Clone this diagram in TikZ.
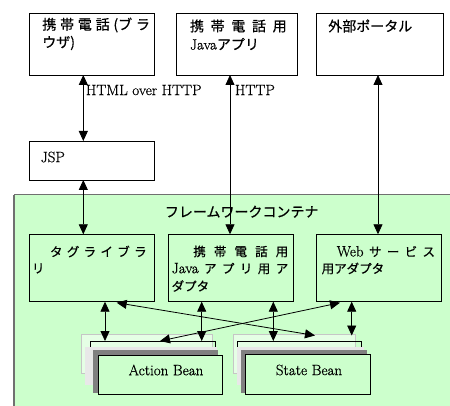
\documentclass[tikz,border=0pt]{standalone}
\usepackage{fontspec}
\newfontfamily\jp[FakeBold=0.5]{Noto Sans CJK JP}
\newfontfamily\lrm[FakeBold=0.6]{Latin Modern Roman}
\usetikzlibrary{arrows.meta}
\definecolor{fwgreen}{HTML}{CCFFCC}
\definecolor{fwedge}{HTML}{707070}
\newcommand\JA{\jp\fontsize{14}{16}\selectfont}
\newcommand\JB{\jp\fontsize{12.5}{14}\selectfont}
\newcommand\LR{\lrm\fontsize{15}{17}\selectfont}
\begin{document}
\begin{tikzpicture}[x=1pt,y=-1pt,
  box/.style={draw=black,line width=0.8pt,anchor=north west,inner sep=0,outer sep=0},
  wbox/.style={box,fill=white},
  gbox/.style={box,fill=fwgreen},
  txt/.style={anchor=west,inner sep=0,outer sep=0},
  ctxt/.style={inner sep=0,outer sep=0},
  dbl/.style={{Triangle[length=10pt,width=9pt]}-{Triangle[length=10pt,width=9pt]},line width=0.8pt},
  lay1/.style={anchor=north west,inner sep=0,outer sep=0,draw=gray!45,line width=0.8pt,fill=white,fill opacity=0.5,draw opacity=1},
  lay2/.style={anchor=north west,inner sep=0,outer sep=0,draw=black,line width=0.8pt},
  lay3/.style={anchor=north west,inner sep=0,outer sep=0,fill=gray!18},
  lay4/.style={anchor=north west,inner sep=0,outer sep=0,fill=gray},
  lay5/.style={anchor=north west,inner sep=0,outer sep=0,draw=black,line width=0.8pt,fill=fwgreen}]
\useasboundingbox (0,0) rectangle (450,406);
\fill[white] (0,0) rectangle (450,406);

% framework container
\node[anchor=north west,inner sep=0,outer sep=0,draw=fwedge,line width=1pt,fill=fwgreen,
  minimum width=450pt,minimum height=230pt] (fw) at (14,195) {};
\draw[fwedge,line width=1.8pt] (fw.north west) -- (fw.south west);

% top boxes
\node[wbox,minimum width=124.7pt,minimum height=61.7pt] (b1) at (29.3,13.3) {};
\node[wbox,minimum width=121pt,minimum height=61.7pt] (b2) at (176.7,13.3) {};
\node[wbox,minimum width=127.3pt,minimum height=61.7pt] (b3) at (316,13.3) {};
\node[wbox,minimum width=124.7pt,minimum height=39pt] (jsp) at (29.3,141) {};

\node[txt] (t1a) at (42.3,25) {\hbox to 107.7pt{\JA 携\hfill 帯\hfill 電\hfill 話\hfill (ブ\hfill ラ}};
\node[txt] (t1b) at (42.3,43) {\JA ウザ)};
\node[txt] (t2a) at (190,26) {\hbox to 96.7pt{\JA 携\hfill 帯\hfill 電\hfill 話\hfill 用}};
\node[txt] (t2b) at (190,44) {\LR Java\JA アプリ};
\node[txt] (t3a) at (328.3,26) {\JA 外部ポータル};
\node[txt] (tjsp) at (40.7,157) {\LR JSP};

% framework title and inner boxes
\node[ctxt] (ftitle) at (241.7,211.7) {\JA フレームワークコンテナ};
\node[gbox,minimum width=124.7pt,minimum height=67.4pt] (tag) at (29.3,234.3) {};
\node[gbox,minimum width=125pt,minimum height=67.4pt] (jad) at (168.3,234.3) {};
\node[gbox,minimum width=125.7pt,minimum height=67.4pt] (wad) at (316,234.3) {};

\node[txt] (tg1) at (50,251.5) {\hbox to 96.7pt{\JB タ\hfill グ\hfill ラ\hfill イ\hfill ブ\hfill ラ}};
\node[txt] (tg2) at (32,268.5) {\JB リ};
\node[txt] (ja1) at (193.3,251.5) {\hbox to 95pt{\JB 携\hfill 帯\hfill 電\hfill 話\hfill 用}};
\node[txt] (ja2) at (171.7,268.5) {\hbox to 116.6pt{\LR Java\hfill\JB ア\hfill プ\hfill リ\hfill 用\hfill ア}};
\node[txt] (ja3) at (171.7,286) {\JB ダプタ};
\node[txt] (wa1) at (336.7,251.5) {\hbox to 98.3pt{\LR Web\hfill\JB サ\hfill ー\hfill ビ\hfill ス}};
\node[txt] (wa2) at (321.7,268.5) {\JB 用アダプタ};

% Action Bean stack
\node[lay1,minimum width=131.4pt,minimum height=39pt] (aL1) at (81.3,334) {};
\node[lay2,minimum width=125pt,minimum height=39pt] (aL2) at (90,341) {};
\node[lay3,minimum width=131.4pt,minimum height=38pt] (aL3) at (85.3,347) {};
\node[lay4,minimum width=125pt,minimum height=43pt] (aL4) at (93,350) {};
\node[lay5,minimum width=124.7pt,minimum height=39pt] (aL5) at (98,355) {};
\node[ctxt] (abean) at (166,370) {\LR Action Bean};

% State Bean stack
\node[lay1,minimum width=121.7pt,minimum height=39pt] (sL1) at (233.3,334) {};
\node[lay2,minimum width=124pt,minimum height=39pt] (sL2) at (237.7,341) {};
\node[lay3,minimum width=127.3pt,minimum height=38pt] (sL3) at (236.7,347) {};
\node[lay4,minimum width=125.7pt,minimum height=43pt] (sL4) at (241,350) {};
\node[lay5,minimum width=124.3pt,minimum height=40pt] (sL5) at (245.7,354) {};
\node[ctxt] (sbean) at (309,370) {\LR State Bean};

% connectors
\draw[dbl] ([xshift=54pt]b1.south west) -- ([xshift=54pt]jsp.north west);
\draw[dbl] ([xshift=54pt]jsp.south west) -- ([xshift=54pt]tag.north west);
\draw[dbl] ([xshift=53.3pt]b2.south west) -- ([xshift=61.7pt]jad.north west);
\draw[dbl] ([xshift=62pt]b3.south west) -- ([xshift=62pt]wad.north west);
\node[txt] (lhtml) at (86,90) {\LR HTML over HTTP};
\node[txt] (lhttp) at (235,90) {\LR HTTP};

\draw[dbl] ([xshift=75.7pt]tag.south west) -- ([xshift=15pt]aL2.north west);
\draw[dbl] ([xshift=33.4pt]jad.south west) -- ([xshift=111.7pt]aL2.north west);
\draw[dbl] ([xshift=105pt]jad.south west) -- ([xshift=35.6pt]sL2.north west);
\draw[dbl] ([xshift=35.7pt]wad.south west) -- ([xshift=118.4pt,yshift=-1.5pt]sL1.north west);
\draw[dbl] ([xshift=87.4pt,yshift=-1pt]tag.south west) -- ([xshift=81.7pt,yshift=-1.5pt]sL1.north west);
\draw[dbl] ([xshift=24pt,yshift=-1pt]wad.south west) -- ([xshift=70pt]aL2.north west);
\end{tikzpicture}
\end{document}
